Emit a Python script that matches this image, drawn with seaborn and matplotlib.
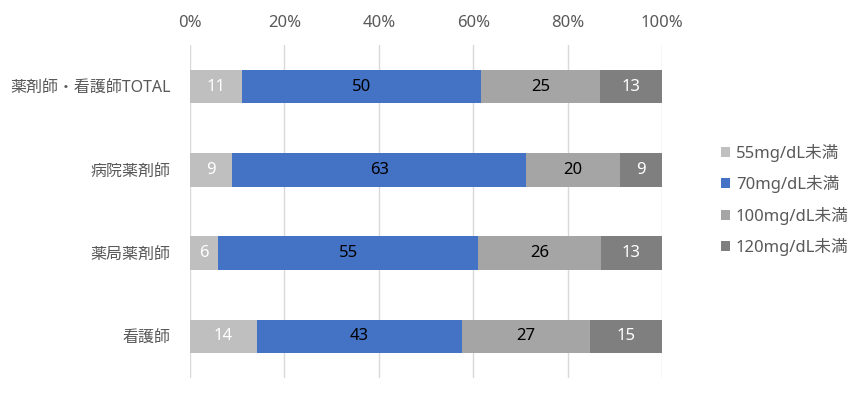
import numpy as np
import pandas as pd
import matplotlib
matplotlib.use("Agg")
import matplotlib.pyplot as plt
import seaborn as sns
from matplotlib.patches import Patch

sns.set_theme(style="white")
plt.rcParams['font.family'] = ['Noto Sans', 'Noto Sans CJK JP', 'DejaVu Sans']

categories = ["薬剤師・看護師TOTAL", "病院薬剤師", "薬局薬剤師", "看護師"]
series_names = ["55mg/dL未満", "70mg/dL未満", "100mg/dL未満", "120mg/dL未満"]
v55 = [11, 9, 6, 14]
v70 = [50, 63, 55, 43]
v100 = [25, 20, 26, 27]
v120 = [13, 9, 13, 15]
xtick_labels = ["0%", "20%", "40%", "60%", "80%", "100%"]

colors = ["#BFBFBF", "#4472C4", "#A5A5A5", "#7F7F7F"]
label_colors = ["white", "black", "black", "white"]

vals = np.array([v55, v70, v100, v120], dtype=float)
pct = vals / vals.sum(axis=0) * 100
cum = np.cumsum(pct, axis=0)

fig = plt.figure(figsize=(8.65, 3.97), dpi=100)
ax = fig.add_axes([190/865, 1-378/397, 472/865, 333/397])

for i in range(3, -1, -1):
    df = pd.DataFrame({"cat": categories, "val": cum[i]})
    sns.barplot(data=df, x="val", y="cat", orient="h", color=colors[i],
                width=0.4, saturation=1, ax=ax, zorder=3, linewidth=0)

for i in range(4):
    starts = cum[i] - pct[i]
    for j in range(4):
        ax.text(starts[j] + pct[i][j] / 2, j, f"{int(vals[i][j])}",
                ha="center", va="center", fontsize=12, color=label_colors[i], zorder=4)

ax.set_xlim(0, 100)
ax.set_ylim(3.5, -0.5)
ax.set_xticks(np.arange(0, 101, 20))
ax.set_xticklabels(xtick_labels)
ax.xaxis.tick_top()
ax.tick_params(axis="x", length=0, pad=10, labelsize=12, labelcolor="#595959")
ax.tick_params(axis="y", length=0, pad=14, labelsize=11.5, labelcolor="#595959")
ax.set_xlabel("")
ax.set_ylabel("")
ax.grid(axis="x", color="#D9D9D9", linewidth=1, zorder=0)
for s in ax.spines.values():
    s.set_visible(False)

handles = [Patch(facecolor=c, edgecolor="none") for c in colors]
fig.legend(handles, series_names, loc="center left", bbox_to_anchor=(706/865, 1-200/397),
           frameon=False, fontsize=12, labelcolor="#595959", handlelength=0.55,
           handleheight=0.55, handletextpad=0.35, labelspacing=0.8)

fig.savefig("out.png", dpi=100)
